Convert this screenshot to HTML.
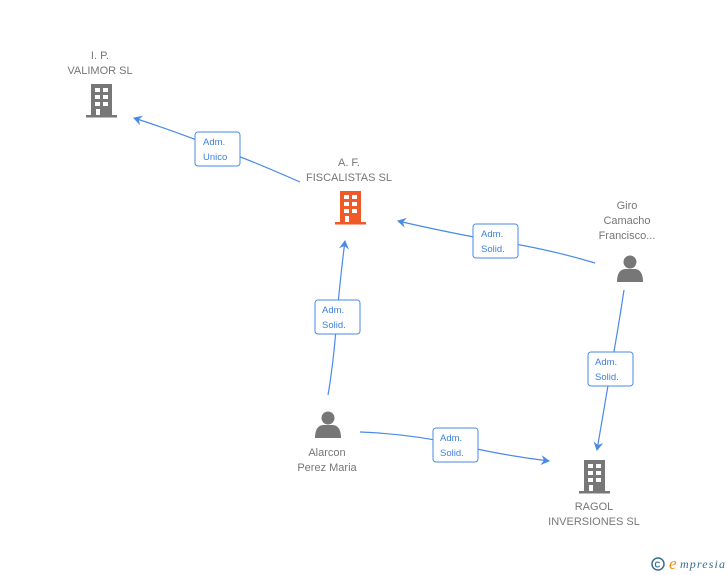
<!DOCTYPE html>
<html><head><style>
body{margin:0;background:#fff;}
svg{display:block;font-family:"Liberation Sans",sans-serif;}
.t{fill:#777;font-size:11px;text-anchor:middle;}
.l{fill:#3d7fe0;font-size:9.5px;}
.e{stroke:#4a8ae6;stroke-width:1.2;fill:none;}
.b{fill:#fff;stroke:#4a8ae6;stroke-width:1;}
</style></head><body>
<svg width="728" height="575" viewBox="0 0 728 575">
<defs>
<g id="bld"><rect x="5" y="0" width="21" height="32"/><rect x="0" y="31" width="31" height="2.5"/>
<g fill="#fff"><rect x="9" y="4" width="5" height="4"/><rect x="17" y="4" width="5" height="4"/><rect x="9" y="11" width="5" height="4"/><rect x="17" y="11" width="5" height="4"/><rect x="9" y="18" width="5" height="4"/><rect x="17" y="18" width="5" height="4"/><rect x="10" y="25" width="4" height="6"/></g></g>
<g id="per"><circle cx="13" cy="8" r="6.5"/><path d="M0 28 C0 17 5 15 9 15 L17 15 C21 15 26 17 26 28 Z"/></g>
<marker id="a" markerWidth="10" markerHeight="10" refX="8" refY="5" orient="auto" markerUnits="userSpaceOnUse"><path d="M0 0 L9 5 L0 10 L3 5Z" fill="#4a8ae6"/></marker>
</defs>
<path class="e" d="M300 182 Q250 160 217 148 Q180 133 134 118" marker-end="url(#a)"/>
<path class="e" d="M595 263 Q545 248 496 241 Q450 233 398 221" marker-end="url(#a)"/>
<path class="e" d="M328 395 Q334 360 337 316 Q340 280 345 241" marker-end="url(#a)"/>
<path class="e" d="M624 290 Q618 330 611 368 Q604 410 597 450" marker-end="url(#a)"/>
<path class="e" d="M360 432 Q410 434 455 444 Q500 455 549 461" marker-end="url(#a)"/>
<rect class="b" x="195" y="132" width="45" height="34" rx="3"/><text class="l" x="203" y="145">Adm.</text><text class="l" x="203" y="160">Unico</text>
<rect class="b" x="473" y="224" width="45" height="34" rx="3"/><text class="l" x="481" y="237">Adm.</text><text class="l" x="481" y="252">Solid.</text>
<rect class="b" x="315" y="300" width="45" height="34" rx="3"/><text class="l" x="322" y="313">Adm.</text><text class="l" x="322" y="328">Solid.</text>
<rect class="b" x="588" y="352" width="45" height="34" rx="3"/><text class="l" x="595" y="365">Adm.</text><text class="l" x="595" y="380">Solid.</text>
<rect class="b" x="433" y="428" width="45" height="34" rx="3"/><text class="l" x="440" y="441">Adm.</text><text class="l" x="440" y="456">Solid.</text>
<use href="#bld" x="86" y="84" fill="#777"/>
<text class="t" x="100" y="59">I.  P.</text><text class="t" x="100" y="74">VALIMOR SL</text>
<use href="#bld" x="335" y="191" fill="#f05a28"/>
<text class="t" x="349" y="166">A. F.</text><text class="t" x="349" y="181">FISCALISTAS SL</text>
<use href="#bld" x="579" y="460" fill="#777"/>
<text class="t" x="594" y="510">RAGOL</text><text class="t" x="594" y="525">INVERSIONES SL</text>
<use href="#per" x="617" y="254" fill="#777"/>
<text class="t" x="627" y="209">Giro</text><text class="t" x="627" y="224">Camacho</text><text class="t" x="627" y="239">Francisco...</text>
<use href="#per" x="315" y="410" fill="#777"/>
<text class="t" x="327" y="456">Alarcon</text><text class="t" x="327" y="471">Perez Maria</text>
<circle cx="658" cy="564" r="6" fill="none" stroke="#3a6f8f" stroke-width="1.5"/><text x="654.5" y="567.5" font-size="8" fill="#3a6f8f" font-weight="bold">C</text>
<text x="669" y="569" font-size="17" fill="#f08a1c" font-style="italic" font-family="Liberation Serif,serif">e</text>
<text x="680" y="568" font-size="12" fill="#3a6f8f" font-style="italic" font-family="Liberation Serif,serif" textLength="45">mpresia</text>
</svg>
</body></html>
